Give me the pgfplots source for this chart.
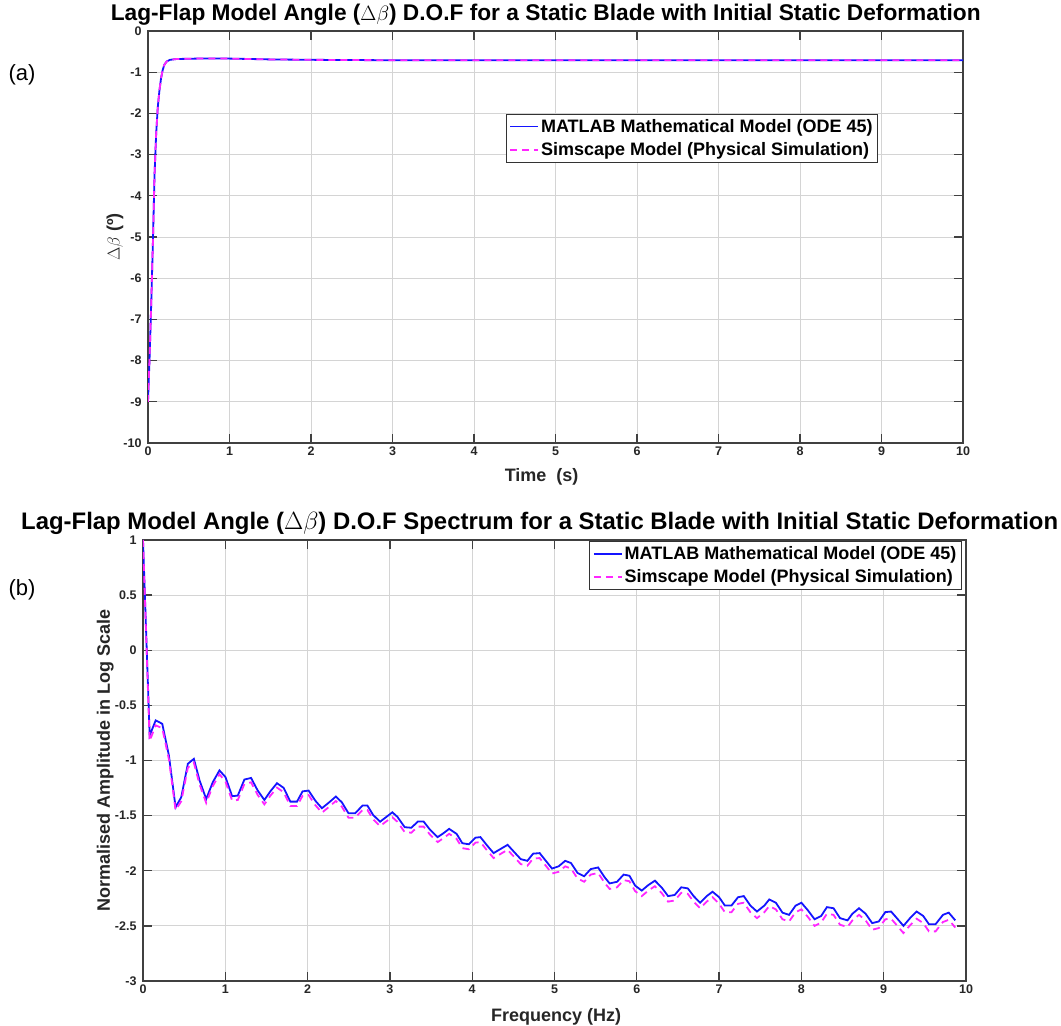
\documentclass[border=0pt]{standalone}
\usepackage{fontspec}
\setmainfont{Liberation Sans}
\usepackage{pgfplots}
\pgfplotsset{compat=1.18}

\definecolor{mblue}{rgb}{0.08,0.08,1}
\definecolor{mmag}{rgb}{1,0.15,1}

\pgfplotsset{mstyle/.style={
  scale only axis,
  axis line style={black!75, line width=1.5pt},
  tick style={black!75, line width=1.3pt},
  major tick length=9pt,
  tick align=inside,
  grid=major,
  major grid style={black!17, line width=0.9pt},
  ticklabel style={font=\bfseries\fontsize{12.5}{14}\selectfont, text=black!85},
  yticklabel style={xshift=-3pt},
  /pgf/number format/assume math mode=true,
  label style={font=\bfseries\fontsize{18}{20}\selectfont, text=black!85},
  legend style={font=\bfseries\fontsize{18}{21}\selectfont, draw=black!80, line width=1pt, inner sep=3pt, row sep=5pt},
  legend cell align=left,
  legend image code/.code={\draw[#1] (0pt,0pt) -- (28pt,0pt);},
}}

\begin{document}
\begin{tikzpicture}
\useasboundingbox (0pt,0pt) rectangle (1061pt,1026pt);

% ---------------- (a) ----------------
\begin{axis}[mstyle,
  at={(148pt,583pt)}, anchor=south west,
  width=815pt, height=412pt,
  xmin=0, xmax=10, ymin=-10, ymax=0,
  xtick={0,1,...,10}, ytick={-10,-9,...,0},
  title={Lag-Flap Model Angle ($\Delta\beta$) D.O.F for a Static Blade with Initial Static Deformation},
  title style={font=\bfseries\fontsize{22.7}{25}\selectfont, anchor=base, at={(axis description cs:0.488,1)}, yshift=4pt},
  xlabel={Time\ \ (s)},
  xlabel style={at={(axis description cs:0.483,-0.0825)}, anchor=center},
  ylabel={$\Delta\beta$ (º)},
  ylabel style={at={(axis description cs:-0.0405,0.5)}, anchor=center},
  legend style={at={(0.896,0.799)}, anchor=north east},
]
\addplot[mblue, line width=1.8pt] coordinates {
(0,-9) (0.02,-7.9) (0.04,-6.6) (0.06,-5.15) (0.08,-3.5) (0.1,-2.5) (0.12,-1.85)
(0.14,-1.45) (0.16,-1.15) (0.18,-0.95) (0.2,-0.82) (0.23,-0.74) (0.27,-0.7)
(0.35,-0.68) (0.6,-0.67) (1,-0.67) (1.5,-0.69) (2,-0.7) (3,-0.71) (4,-0.71)
(5,-0.71) (6,-0.71) (7,-0.71) (8,-0.71) (9,-0.71) (10,-0.71)};
\addlegendentry{MATLAB Mathematical Model (ODE 45)}
\addplot[mmag, line width=1.8pt, dash pattern=on 7pt off 5pt] coordinates {
(0,-9) (0.02,-7.9) (0.04,-6.6) (0.06,-5.15) (0.08,-3.5) (0.1,-2.5) (0.12,-1.85)
(0.14,-1.45) (0.16,-1.15) (0.18,-0.95) (0.2,-0.82) (0.23,-0.74) (0.27,-0.7)
(0.35,-0.68) (0.6,-0.67) (1,-0.67) (1.5,-0.69) (2,-0.7) (3,-0.71) (4,-0.71)
(5,-0.71) (6,-0.71) (7,-0.71) (8,-0.71) (9,-0.71) (10,-0.71)};
\addlegendentry{Simscape Model (Physical Simulation)}
\end{axis}

% ---------------- (b) ----------------
\begin{axis}[mstyle,
  at={(143pt,45pt)}, anchor=south west,
  width=823pt, height=441pt,
  xmin=0, xmax=10, ymin=-3, ymax=1,
  xtick={0,1,...,10}, ytick={-3,-2.5,...,1},
  title={Lag-Flap Model Angle ($\Delta\beta$) D.O.F Spectrum for a Static Blade with Initial Static Deformation},
  title style={font=\bfseries\fontsize{23.9}{26}\selectfont, anchor=base, at={(axis description cs:0.482,1)}, yshift=4pt},
  xlabel={Frequency (Hz)},
  xlabel style={at={(axis description cs:0.502,-0.0816)}, anchor=center},
  ylabel={Normalised Amplitude in Log Scale},
  ylabel style={at={(axis description cs:-0.046,0.5)}, anchor=center},
  legend style={at={(0.995,0.998)}, anchor=north east},
]
\addplot[mblue, line width=1.8pt] coordinates {
(0,1.0) (0.081,-0.773) (0.154,-0.636) (0.234,-0.667) (0.315,-0.955) (0.396,-1.424)
(0.465,-1.333) (0.545,-1.03) (0.618,-0.985) (0.687,-1.18) (0.768,-1.35) (0.848,-1.197)
(0.929,-1.09) (1.002,-1.15) (1.083,-1.324) (1.152,-1.318) (1.232,-1.173) (1.313,-1.158)
(1.394,-1.273) (1.475,-1.358) (1.547,-1.28) (1.628,-1.206) (1.709,-1.248) (1.790,-1.373)
(1.871,-1.373) (1.939,-1.28) (2.012,-1.273) (2.093,-1.364) (2.174,-1.433) (2.263,-1.379)
(2.343,-1.327) (2.416,-1.379) (2.497,-1.479) (2.578,-1.479) (2.667,-1.409) (2.727,-1.409)
(2.796,-1.494) (2.881,-1.555) (2.96,-1.51) (3.03,-1.47) (3.09,-1.51) (3.18,-1.605)
(3.26,-1.61) (3.34,-1.554) (3.41,-1.554) (3.49,-1.63) (3.58,-1.695) (3.65,-1.66)
(3.72,-1.62) (3.81,-1.665) (3.88,-1.75) (3.96,-1.76) (4.04,-1.70) (4.10,-1.695)
(4.18,-1.77) (4.26,-1.84) (4.35,-1.80) (4.43,-1.765) (4.51,-1.83) (4.59,-1.895)
(4.67,-1.91) (4.74,-1.845) (4.82,-1.84) (4.90,-1.915) (4.97,-1.98) (5.05,-1.96)
(5.13,-1.91) (5.20,-1.93) (5.28,-2.02) (5.36,-2.05) (5.44,-1.985) (5.53,-1.97)
(5.61,-2.06) (5.67,-2.115) (5.76,-2.10) (5.84,-2.035) (5.91,-2.045) (5.98,-2.135)
(6.06,-2.18) (6.14,-2.13) (6.22,-2.09) (6.30,-2.15) (6.38,-2.23) (6.46,-2.22)
(6.54,-2.15) (6.62,-2.16) (6.69,-2.23) (6.77,-2.29) (6.85,-2.23) (6.92,-2.19)
(7.00,-2.24) (7.07,-2.316) (7.15,-2.316) (7.23,-2.24) (7.30,-2.23) (7.38,-2.316)
(7.46,-2.37) (7.55,-2.316) (7.61,-2.26) (7.69,-2.29) (7.77,-2.38) (7.85,-2.40)
(7.93,-2.316) (8.00,-2.29) (8.08,-2.36) (8.16,-2.44) (8.24,-2.41) (8.31,-2.33)
(8.39,-2.34) (8.47,-2.43) (8.56,-2.45) (8.62,-2.39) (8.70,-2.34) (8.78,-2.39)
(8.86,-2.475) (8.94,-2.46) (9.02,-2.375) (9.09,-2.37) (9.16,-2.43) (9.24,-2.50)
(9.32,-2.43) (9.40,-2.37) (9.48,-2.41) (9.55,-2.485) (9.63,-2.485) (9.72,-2.40)
(9.79,-2.38) (9.87,-2.45)};
\addlegendentry{MATLAB Mathematical Model (ODE 45)}
\addplot[mmag, line width=1.8pt, dash pattern=on 7pt off 5pt] coordinates {
(0,1.0) (0.081,-0.823) (0.154,-0.681) (0.234,-0.707) (0.315,-0.99) (0.396,-1.45)
(0.465,-1.37) (0.545,-1.065) (0.618,-1.02) (0.687,-1.215) (0.768,-1.385) (0.848,-1.232)
(0.929,-1.125) (1.002,-1.19) (1.083,-1.364) (1.152,-1.358) (1.232,-1.213) (1.313,-1.198)
(1.394,-1.313) (1.475,-1.398) (1.547,-1.32) (1.628,-1.246) (1.709,-1.288) (1.790,-1.413)
(1.871,-1.413) (1.939,-1.32) (2.012,-1.313) (2.093,-1.404) (2.174,-1.473) (2.263,-1.419)
(2.343,-1.367) (2.416,-1.419) (2.497,-1.519) (2.578,-1.519) (2.667,-1.449) (2.727,-1.449)
(2.796,-1.534) (2.881,-1.595) (2.96,-1.55) (3.03,-1.515) (3.09,-1.555) (3.18,-1.65)
(3.26,-1.655) (3.34,-1.6) (3.41,-1.6) (3.49,-1.675) (3.58,-1.74) (3.65,-1.705)
(3.72,-1.665) (3.81,-1.71) (3.88,-1.795) (3.96,-1.805) (4.04,-1.745) (4.10,-1.74)
(4.18,-1.815) (4.26,-1.885) (4.35,-1.845) (4.43,-1.81) (4.51,-1.875) (4.59,-1.94)
(4.67,-1.955) (4.74,-1.89) (4.82,-1.885) (4.90,-1.96) (4.97,-2.025) (5.05,-2.01)
(5.13,-1.96) (5.20,-1.98) (5.28,-2.07) (5.36,-2.10) (5.44,-2.035) (5.53,-2.02)
(5.61,-2.11) (5.67,-2.165) (5.76,-2.15) (5.84,-2.085) (5.91,-2.095) (5.98,-2.185)
(6.06,-2.23) (6.14,-2.18) (6.22,-2.14) (6.30,-2.20) (6.38,-2.28) (6.46,-2.27)
(6.54,-2.20) (6.62,-2.21) (6.69,-2.28) (6.77,-2.34) (6.85,-2.28) (6.92,-2.24)
(7.00,-2.30) (7.07,-2.376) (7.15,-2.376) (7.23,-2.30) (7.30,-2.29) (7.38,-2.376)
(7.46,-2.43) (7.55,-2.376) (7.61,-2.32) (7.69,-2.35) (7.77,-2.44) (7.85,-2.46)
(7.93,-2.376) (8.00,-2.35) (8.08,-2.42) (8.16,-2.50) (8.24,-2.47) (8.31,-2.39)
(8.39,-2.40) (8.47,-2.49) (8.56,-2.51) (8.62,-2.45) (8.70,-2.40) (8.78,-2.45)
(8.86,-2.535) (8.94,-2.52) (9.02,-2.44) (9.09,-2.435) (9.16,-2.495) (9.24,-2.565)
(9.32,-2.495) (9.40,-2.435) (9.48,-2.475) (9.55,-2.55) (9.63,-2.55) (9.72,-2.465)
(9.79,-2.445) (9.87,-2.515)};
\addlegendentry{Simscape Model (Physical Simulation)}
\end{axis}

\node[font=\fontsize{22}{24}\selectfont] at (22pt,951pt) {(a)};
\node[font=\fontsize{22}{24}\selectfont] at (22pt,436pt) {(b)};
\end{tikzpicture}
\end{document}
